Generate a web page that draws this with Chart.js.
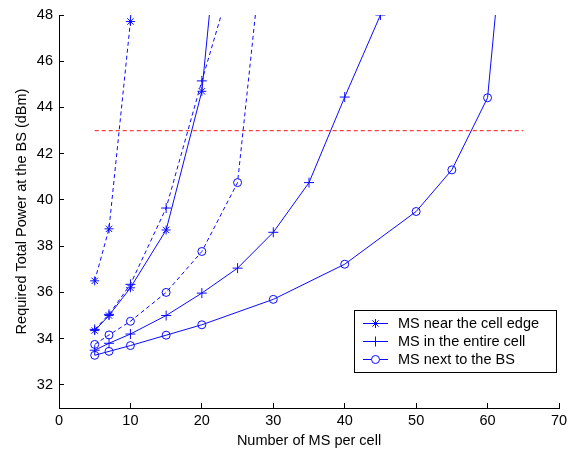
<!DOCTYPE html>
<html>
<head>
<meta charset="utf-8">
<script src="https://cdn.jsdelivr.net/npm/chart.js@4.4.1/dist/chart.umd.min.js"></script>
<style>
  html, body { margin: 0; padding: 0; background: #fff; }
  #wrap { width: 573px; height: 453px; }
</style>
</head>
<body>
<div id="wrap"><canvas id="powerChart"></canvas></div>
<script>
// solid curves
const edgeSolidX = [5, 7, 10, 15, 20, 25];
const edgeSolidY = [34.35, 35.0, 36.2, 38.7, 44.7, 60.4];
const entireSolidX = [5, 7, 10, 15, 20, 25, 30, 35, 40, 45];
const entireSolidY = [33.5, 33.8, 34.2, 35.0, 35.97, 37.05, 38.6, 40.75, 44.45, 48.0];
const bsSolidX = [5, 7, 10, 15, 20, 30, 40, 50, 55, 60, 65];
const bsSolidY = [33.28, 33.45, 33.7, 34.15, 34.6, 35.7, 37.22, 39.5, 41.3, 44.42, 60.8];

// dashed curves
const edgeDashX = [5, 7, 10, 15];
const edgeDashY = [36.5, 38.75, 47.72, 80];
const entireDashX = [5, 7, 10, 15, 20, 25];
const entireDashY = [34.4, 35.05, 36.35, 39.65, 45.15, 50.4];
const bsDashX = [5, 7, 10, 15, 20, 25, 30];
const bsDashY = [33.75, 34.16, 34.75, 36.0, 37.77, 40.75, 55.3];

// red threshold line
const limitX = [5, 65];
const limitY = [43, 43];

const legendLabels = ["MS near the cell edge", "MS in the entire cell", "MS next to the BS"];
const xTicks = [0, 10, 20, 30, 40, 50, 60, 70];
const yTicks = [32, 34, 36, 38, 40, 42, 44, 46, 48];

const pts = (xs, ys) => xs.map((x, i) => ({ x: x, y: ys[i] }));
const blue = "rgb(10,10,255)";
const font = "'Liberation Sans', Arial, sans-serif";

function curve(label, xs, ys, marker, dashed, size) {
    return {
        label: label,
        data: pts(xs, ys),
        borderColor: blue,
        backgroundColor: "rgba(0,0,0,0)",
        borderWidth: 1,
        borderDash: dashed ? [4, 3] : [],
        pointStyle: marker,
        pointRadius: size,
        pointBorderColor: blue,
        pointBorderWidth: 1,
        pointBackgroundColor: "rgba(0,0,0,0)",
        tension: 0
    };
}

// legend drawn inside the axes, like the matlab box
const legendBox = {
    id: "legendBox",
    afterDraw(chart) {
        const ctx = chart.ctx;
        const area = chart.chartArea;
        const x0 = area.right - 205, y0 = area.bottom - 98;
        ctx.save();
        ctx.fillStyle = "#fff";
        ctx.fillRect(x0, y0, 202, 62);
        ctx.strokeStyle = "#000";
        ctx.lineWidth = 1;
        ctx.strokeRect(x0 + 0.5, y0 + 0.5, 202, 62);
        ctx.font = "14.5px " + font;
        ctx.textBaseline = "middle";
        for (let i = 0; i < 3; i++) {
            const ds = chart.data.datasets[i];
            const y = Math.round(y0 + 12.7 + i * 18.3) + 0.5;
            ctx.strokeStyle = blue;
            ctx.setLineDash([]);
            ctx.beginPath();
            ctx.moveTo(x0 + 9, y);
            ctx.lineTo(x0 + 34, y);
            ctx.stroke();
            ctx.fillStyle = "#fff";
            Chart.helpers.drawPoint(ctx, {
                pointStyle: ds.pointStyle,
                radius: ds.pointRadius,
                borderWidth: 1
            }, x0 + 21.5, y);
            ctx.fillStyle = "#000";
            ctx.fillText(legendLabels[i], x0 + 44, y);
        }
        ctx.restore();
    }
};

new Chart(document.getElementById("powerChart"), {
    type: "line",
    data: {
        datasets: [
            curve("edge", edgeSolidX, edgeSolidY, "star", false, 4.5),
            curve("entire", entireSolidX, entireSolidY, "cross", false, 5),
            curve("bs", bsSolidX, bsSolidY, "circle", false, 4),
            curve("edge dashed", edgeDashX, edgeDashY, "star", true, 4.5),
            curve("entire dashed", entireDashX, entireDashY, "cross", true, 5),
            curve("bs dashed", bsDashX, bsDashY, "circle", true, 4),
            {
                label: "limit",
                data: pts(limitX, limitY),
                borderColor: "rgb(255,60,60)",
                borderWidth: 1.2,
                borderDash: [4, 3],
                pointRadius: 0
            }
        ]
    },
    options: {
        responsive: true,
        maintainAspectRatio: false,
        animation: false,
        layout: { padding: { top: 15, right: 14, left: 0, bottom: 0 } },
        plugins: {
            legend: { display: false },
            tooltip: { enabled: false }
        },
        scales: {
            x: {
                type: "linear",
                min: 0,
                max: 70,
                afterBuildTicks: (s) => { s.ticks = xTicks.map(v => ({ value: v })); },
                afterFit: (s) => { s.height = 45; s.paddingLeft = 0; s.paddingRight = 0; },
                ticks: { color: "#000", padding: 9, font: { size: 14.5, family: font } },
                grid: { drawOnChartArea: false, tickLength: -5, color: "#000" },
                border: { color: "#000" },
                title: {
                    display: true,
                    text: "Number of MS per cell",
                    color: "#000",
                    font: { size: 14.5, family: font },
                    padding: { top: 0, bottom: 3 }
                }
            },
            y: {
                type: "linear",
                min: 31,
                max: 48,
                afterBuildTicks: (s) => { s.ticks = yTicks.map(v => ({ value: v })); },
                afterFit: (s) => { s.width = 59; s.paddingTop = 0; s.paddingBottom = 0; },
                ticks: { color: "#000", padding: 11, font: { size: 14.5, family: font } },
                grid: { drawOnChartArea: false, tickLength: -5, color: "#000" },
                border: { color: "#000" },
                title: {
                    display: true,
                    text: "Required Total Power at the BS (dBm)",
                    color: "#000",
                    font: { size: 14.5, family: font },
                    padding: { top: 13, bottom: 0 }
                }
            }
        }
    },
    plugins: [legendBox]
});
</script>
</body>
</html>
